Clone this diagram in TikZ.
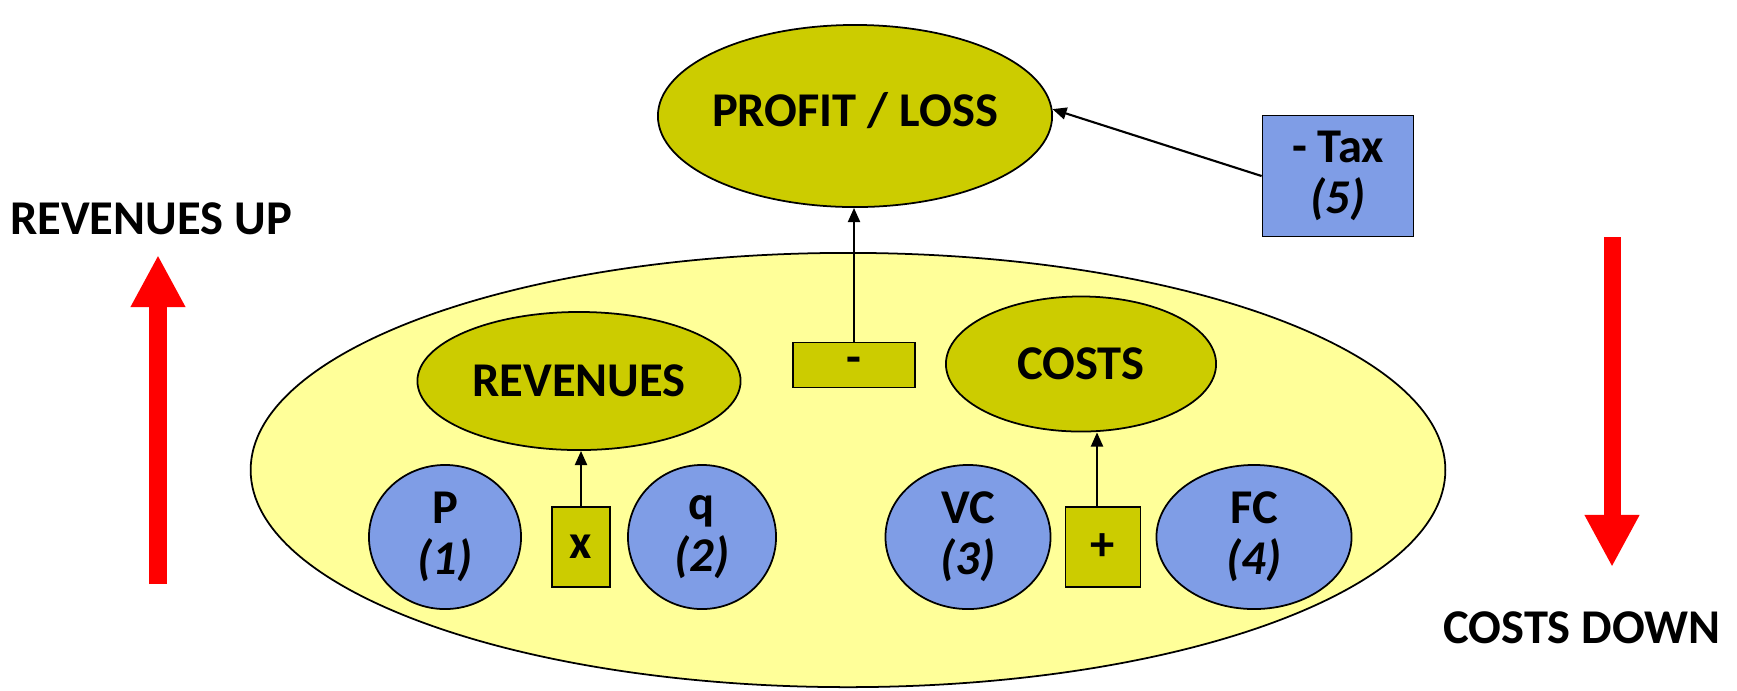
\documentclass[tikz,border=0pt]{standalone}
\usepackage{fontspec}
\setmainfont{Carlito}
\definecolor{olive0}{RGB}{204,204,0}
\definecolor{blue0}{RGB}{127,157,230}
\definecolor{pale0}{RGB}{255,255,153}
\usetikzlibrary{shapes.geometric, arrows.meta, positioning}
\tikzset{basic/.style={draw,line width=0.5pt,inner sep=0pt,align=center,font=\fontsize{13.8}{14.6}\selectfont\bfseries}}
\tikzset{total/.style={basic,ellipse,fill=olive0}}
\tikzset{driver/.style={basic,ellipse,fill=blue0,minimum height=1.44cm}}
\tikzset{op/.style={basic,rectangle,fill=olive0}}
\tikzset{link/.style={draw,line width=0.6pt,-{Triangle[length=4pt,width=3.4pt]}}}
\tikzset{bigarrow/.style={draw=red,line width=0.17cm,-{Triangle[length=0.52cm,width=0.51cm]}}}
\tikzset{caption/.style={font=\fontsize{13.8}{14.6}\selectfont\bfseries}}

\begin{document}
\begin{tikzpicture}[x=0.01cm,y=-0.01cm]
\useasboundingbox (0,0) rectangle (1737,690);

% Define the model area
\node[basic,ellipse,fill=pale0,minimum width=11.94cm,minimum height=4.34cm] at (848,470) (model) {};

% Define result
\node[total,minimum width=3.94cm,minimum height=1.82cm] at (855,116) (profit) {};
\node at ([yshift=0.05cm]profit.center) [font=\fontsize{13.8}{14.6}\selectfont\bfseries] (profittext) {PROFIT / LOSS};
\node[basic,rectangle,fill=blue0,minimum width=1.51cm,minimum height=1.21cm] at (1338,176) (tax) {- Tax\\\textit{(5)}};

% Define totals
\node[total,minimum width=3.23cm,minimum height=1.38cm] at (579,381) (revenues) {REVENUES};
\node[total,minimum width=2.70cm,minimum height=1.35cm] at (1081,364) (costs) {COSTS};

% Define drivers
\node[driver,minimum width=1.52cm] at (445,537) (p) {P\\\textit{(1)}};
\node[driver,minimum width=1.48cm] at (702,537) (q) {q\\\textit{(2)}};
\node[driver,minimum width=1.65cm] at (968,537) (vc) {VC\\\textit{(3)}};
\node[driver,minimum width=1.95cm] at (1254,537) (fc) {FC\\\textit{(4)}};

% Define operators
\node[op,minimum width=0.58cm,minimum height=0.80cm] at (581,547) (times) {x};
\node[op,minimum width=0.75cm,minimum height=0.80cm] at (1103,547) (plus) {+};
\node[op,minimum width=1.22cm,minimum height=0.45cm] at (854,365) (minus) {-};

% Define paths
\path[link] (times.north) -- (times.north |- revenues.south);
\path[link] ([xshift=-0.06cm]plus.north) -- ([xshift=-0.06cm]plus.north |- costs.south);
\path[link] (minus.north) -- (minus.north |- profit.south);
\path[link] (tax.west) -- (profit.2);

% Add the trend arrows
\coordinate (upfoot) at (158,584);
\coordinate (uptip) at (158,255);
\coordinate (downtop) at (1612,237);
\coordinate (downtip) at (1612,567);
\path[bigarrow] (upfoot) -- (uptip);
\path[bigarrow] (downtop) -- (downtip);

% Add some text
\node[caption] at (151,219) (uplabel) {REVENUES UP};
\node[caption] at (1582,628) (downlabel) {COSTS DOWN};
\end{tikzpicture}
\end{document}
